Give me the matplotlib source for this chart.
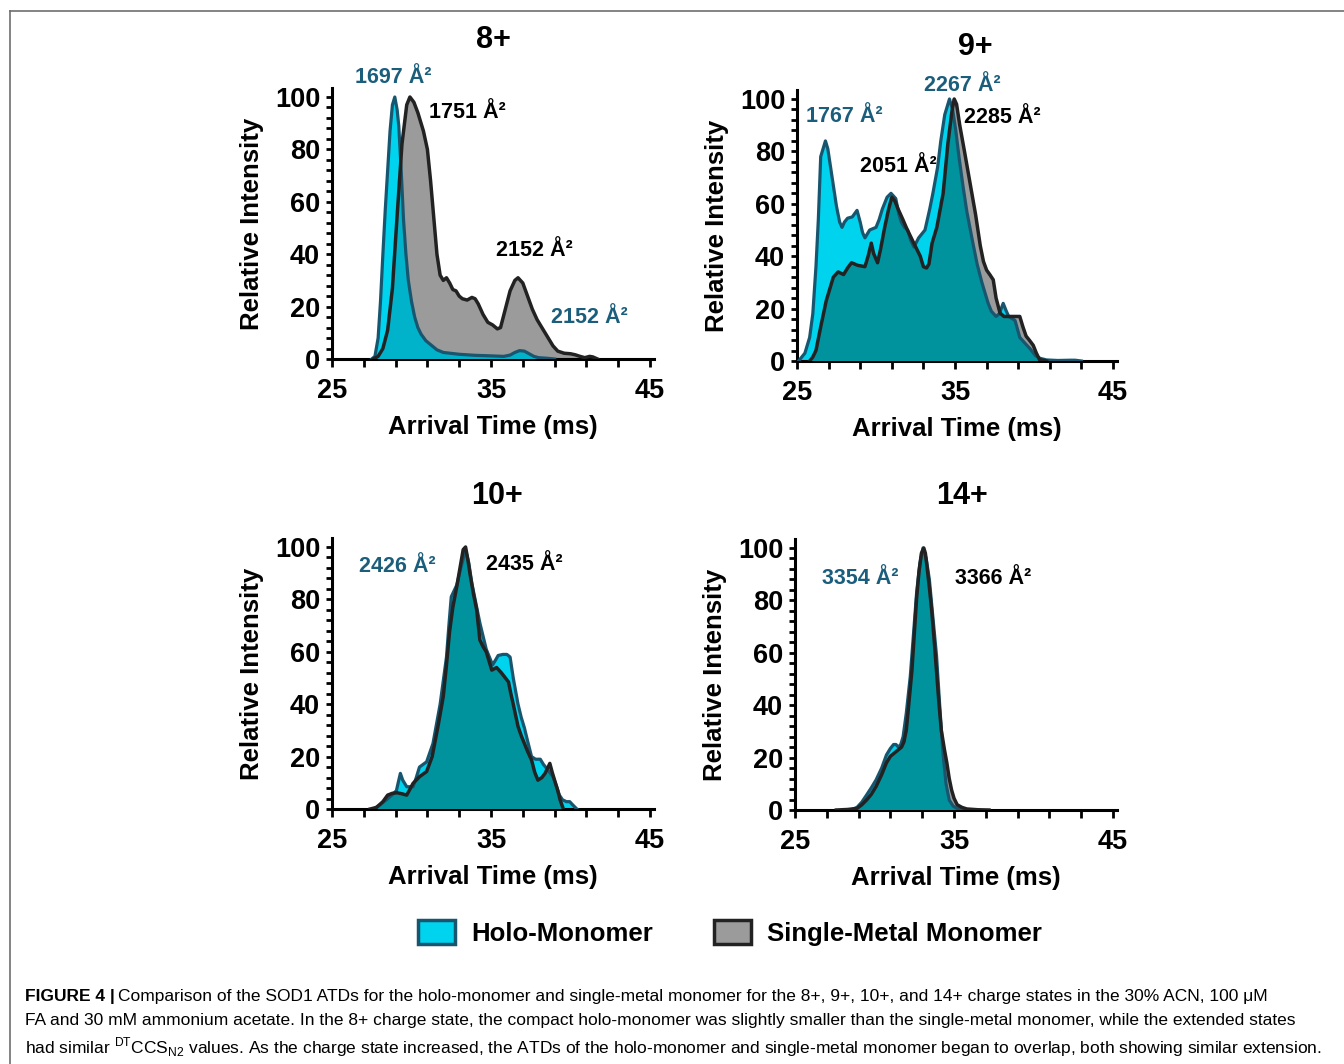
import numpy as np
import matplotlib
matplotlib.use('Agg')
import matplotlib.pyplot as plt
from matplotlib.patches import Patch
from matplotlib.lines import Line2D

plt.rcParams['font.family'] = ['Liberation Sans', 'DejaVu Sans']
plt.rcParams['mathtext.fontset'] = 'custom'
plt.rcParams['mathtext.rm'] = 'Liberation Sans'

W, H = 1344, 1064

CYAN = '#00D3EE'
GRAY = '#9B9B9B'
HOLO_LINE = '#18566F'
BLACK_LINE = '#222222'
HOLO_TEXT = '#1B5E7C'

# ---- data (arrival time ms, relative intensity) ----
# 8+
holo8_t = [27.5, 27.7, 27.9, 28.05, 28.2, 28.35, 28.5, 28.65, 28.8, 28.95, 29.1, 29.2, 29.35, 29.5,
           29.65, 29.8, 30.0, 30.2, 30.4, 30.6, 30.9, 31.2, 31.6, 32.0, 33.0, 34.0, 35.0, 35.8,
           36.2, 36.5, 36.8, 37.1, 37.4, 37.7, 38.0, 38.5, 39.0]
holo8_y = [0, 1, 8, 22, 40, 57, 72, 87, 97, 100, 95, 89, 72, 53,
           40, 30, 22, 16, 12, 9.5, 7, 5.5, 3.5, 2.5, 1.8, 1.4, 1.2, 1,
           1.5, 2.5, 3.2, 3, 2, 1, 0.5, 0.3, 0]
single8_t = [27.6, 27.9, 28.2, 28.5, 28.8, 29.1, 29.4, 29.7, 29.9, 30.15, 30.4, 30.75, 31.0, 31.2,
             31.4, 31.6, 31.8, 32.0, 32.2, 32.4, 32.6, 32.8, 33.0, 33.2, 33.5, 33.8, 34.0, 34.2,
             34.5, 34.8, 35.1, 35.4, 35.6, 35.9, 36.2, 36.5, 36.7, 37.0, 37.3, 37.6, 37.9, 38.2,
             38.6, 38.9, 39.2, 39.6, 40.0, 40.3, 40.6, 40.9, 41.2, 41.4, 41.7]
single8_y = [0, 1, 4, 11, 27, 55, 82, 97, 100, 98, 94, 87, 80, 68,
             54, 40, 32, 30, 31, 29, 26.5, 26, 24, 23, 22.5, 23.5, 23, 21,
             17, 14, 13, 11.5, 12, 19, 26, 30, 31, 29, 24, 19, 15, 12,
             8, 5, 3, 2.2, 2, 1.6, 1, 0.5, 1, 0.8, 0]

# 9+
holo9_t = [25.1, 25.5, 25.8, 26.0, 26.2, 26.35, 26.5, 26.8, 26.95, 27.1, 27.3, 27.5, 27.7, 27.85,
           28.0, 28.2, 28.5, 28.8, 29.0, 29.15, 29.3, 29.6, 30.0, 30.2, 30.4, 30.7, 30.95, 31.25,
           31.45, 31.6, 31.8, 32.0, 32.2, 32.4, 32.7, 33.1, 33.4, 33.6, 33.9, 34.1, 34.35, 34.65,
           34.85, 35.05, 35.25, 35.5, 35.75, 36.1, 36.4, 36.7, 36.9, 37.1, 37.3, 37.6, 37.8,
           38.05, 38.25, 38.4, 38.8, 39.1, 39.4, 39.75, 40.1, 40.4, 40.8, 41.5, 42.3, 42.6, 43.0]
holo9_y = [0, 3, 9, 18, 36, 54, 78, 84, 81, 75, 67, 59, 53, 51,
           53, 54.5, 55, 57.5, 53, 49, 47, 50, 51, 54, 58, 62.5, 64, 62,
           56, 53, 51, 50, 46, 43.5, 47, 50, 58, 64, 74, 84, 94, 100,
           96, 88, 78, 67, 57, 46, 37, 30, 26, 22, 19, 17, 18,
           22, 19, 17, 15.5, 9, 7, 4.7, 2, 1, 0.4, 0.2, 0.3, 0.3, 0]
single9_t = [25.8, 26.0, 26.2, 26.5, 26.85, 27.1, 27.3, 27.6, 27.95, 28.2, 28.45, 28.85, 29.3, 29.5,
             29.7, 29.85, 30.1, 30.3, 30.55, 30.8, 31.0, 31.2, 31.4, 31.7, 31.95, 32.35, 32.8,
             33.0, 33.2, 33.35, 33.55, 33.85, 34.25, 34.55, 34.8, 34.95, 35.1, 35.3, 35.6, 35.95,
             36.3, 36.6, 36.8, 37.0, 37.2, 37.42, 37.6, 37.85, 38.1, 38.6, 39.1, 39.3, 39.5,
             39.7, 39.95, 40.15, 40.35, 40.8]
single9_y = [0, 1.5, 4, 13, 23, 28, 32, 34, 33, 35.5, 37.5, 36.5, 36, 40,
             45, 41, 37.5, 43, 51, 58, 62.5, 61, 58, 54, 50.5, 45.5, 40,
             36, 35.5, 37, 45, 51, 64, 83, 95, 100, 98, 90, 80, 68,
             56, 44, 38, 34.7, 33, 31, 24, 18.3, 17, 17, 17, 13, 9.5,
             8, 6, 3, 0.5, 0]

# 10+
holo10_t = [27.6, 28.0, 28.4, 28.8, 29.05, 29.2, 29.3, 29.45, 29.7, 30.1, 30.3, 30.5, 30.95, 31.35,
            31.8, 32.2, 32.35, 32.5, 32.85, 33.1, 33.4, 33.6, 33.8, 34.0, 34.3, 34.5, 34.7, 35.1,
            35.3, 35.45, 35.75, 36.0, 36.2, 36.4, 36.7, 36.9, 37.1, 37.3, 37.55, 37.8, 38.1, 38.3,
            38.5, 38.9, 39.1, 39.3, 39.5, 39.75, 39.95, 40.15, 40.4]
holo10_y = [0, 1.5, 3.4, 5.5, 7, 11, 13.6, 11, 8.5, 8.5, 12, 16, 18, 25,
            40, 58, 70, 81, 85.5, 92, 99, 94, 86, 80, 71, 66, 61, 55,
            57, 58.6, 59, 59, 58, 50, 40, 35, 31, 26, 20, 19, 19, 17,
            15.5, 12.3, 9, 5.3, 3.5, 2.8, 2.8, 1.5, 0]
single10_t = [27.4, 27.8, 28.2, 28.5, 28.8, 29.1, 29.4, 29.7, 30.1, 30.5, 30.95, 31.3, 31.7, 32.0,
              32.2, 32.4, 32.6, 32.85, 33.05, 33.25, 33.4, 33.55, 33.7, 33.9, 34.1, 34.3, 34.5, 34.7,
              35.05, 35.35, 35.65, 36.1, 36.25, 36.4, 36.7, 36.9, 37.1, 37.3, 37.55, 37.75, 37.95, 38.2,
              38.4, 38.7, 38.85, 39.0, 39.2, 39.35, 39.55]
single10_y = [0, 0.6, 2.8, 5.3, 6, 6.2, 5.8, 5.3, 9.8, 12.3, 14.3, 20, 32.7, 43,
              55, 68, 77, 85, 92, 99, 100, 95, 89, 82, 76, 64.5, 62, 60,
              53, 54, 52, 48.5, 44, 40, 31.5, 28, 25, 22, 18.7, 14, 11, 12,
              13.6, 17.4, 14, 11, 7, 3.4, 0]

# 14+
holo14_t = [28.5, 28.9, 29.2, 29.5, 29.8, 30.1, 30.45, 30.75, 31.0, 31.2, 31.35, 31.5, 31.65, 31.8,
            32.0, 32.25, 32.45, 32.65, 32.85, 33.05, 33.25, 33.45, 33.65, 33.9, 34.1, 34.3, 34.5, 34.7,
            34.95, 35.2, 35.6]
holo14_y = [0, 1, 3, 5.7, 8.5, 11.5, 16, 21, 23.5, 25, 25, 24, 25, 28,
            37, 51, 67, 83, 94, 100, 96, 88, 75, 59, 40, 22, 10, 3.8,
            1.5, 0.6, 0]
single14_t = [27.6, 28.3, 28.9, 29.2, 29.5, 29.8, 30.1, 30.45, 30.75, 31.0, 31.3, 31.5, 31.7, 31.85,
              32.0, 32.15, 32.35, 32.5, 32.65, 32.8, 32.95, 33.1, 33.2, 33.3, 33.45, 33.6, 33.75, 33.9,
              34.05, 34.2, 34.4, 34.55, 34.7, 34.85, 35.0, 35.2, 35.5, 35.8, 36.5, 37.2]
single14_y = [0, 0.2, 0.6, 2, 3.8, 6, 9, 13.5, 18, 20.5, 22, 23, 24, 26,
              30.5, 40, 53, 67, 81, 91, 98, 100, 98, 93, 85, 76, 65, 53,
              41, 30.5, 23, 18, 12, 7.6, 4.5, 2, 1, 0.4, 0.1, 0]

titles = ['8+', '9+', '10+', '14+']
labels_8 = [('1697 Å²', 28.84, 107.6, HOLO_TEXT), ('1751 Å²', 33.49, 93.9, 'black'),
            ('2152 Å²', 37.7, 41.6, 'black'), ('2152 Å²', 41.2, 16.0, HOLO_TEXT)]
labels_9 = [('1767 Å²', 27.97, 93.5, HOLO_TEXT), ('2267 Å²', 35.44, 105.3, HOLO_TEXT),
            ('2285 Å²', 37.97, 93.1, 'black'), ('2051 Å²', 31.39, 74.4, 'black')]
labels_10 = [('2426 Å²', 29.09, 92.4, HOLO_TEXT), ('2435 Å²', 37.08, 93.5, 'black')]
labels_14 = [('3354 Å²', 29.09, 88.5, HOLO_TEXT), ('3366 Å²', 37.45, 88.5, 'black')]

caption1 = ('Comparison of the SOD1 ATDs for the holo-monomer and single-metal monomer for the 8+, 9+, '
            '10+, and 14+ charge states in the 30% ACN, 100 μM')
caption2 = ('FA and 30 mM ammonium acetate. In the 8+ charge state, the compact holo-monomer was slightly '
            'smaller than the single-metal monomer, while the extended states')
caption3 = (r'had similar $^{\mathrm{DT}}$CCS$_{\mathrm{N2}}$ values. As the charge state increased, the ATDs '
            'of the holo-monomer and single-metal monomer began to overlap, both showing similar extension.')


def draw(fig, box, title, title_xy, holo_t, holo_y, single_t, single_y, overlap_color, labels):
    x0, x1, y0, y100 = box
    xmax, ymax = 45.25, 103.5
    rect = [x0 / W, 1 - y0 / H, (x1 - x0) / W * (xmax - 25) / 20, (y0 - y100) / H * ymax / 100]
    ax = fig.add_axes(rect)

    ax.fill_between(single_t, single_y, 0, color=GRAY, lw=0, zorder=1)
    c = ax.fill_between(holo_t, holo_y, 0, color=CYAN, lw=0, zorder=2)
    # where both curves overlap the fill turns teal
    o = ax.fill_between(single_t, single_y, 0, color=overlap_color, lw=0, zorder=3)
    o.set_clip_path(c.get_paths()[0], c.get_transform())
    ax.plot(holo_t, holo_y, color=HOLO_LINE, lw=2.3, zorder=4, solid_joinstyle='round')
    ax.plot(single_t, single_y, color=BLACK_LINE, lw=2.5, zorder=5, solid_joinstyle='round')

    ax.set_xlim(25, xmax)
    ax.set_ylim(0, ymax)
    for s in ['top', 'right']:
        ax.spines[s].set_visible(False)
    for s in ['left', 'bottom']:
        ax.spines[s].set_linewidth(2.2)
    ax.set_xticks([25, 35, 45])
    ax.set_xticks(np.arange(25, 46, 2), minor=True)
    ax.set_yticks(np.arange(0, 101, 20))
    ax.set_yticks(np.arange(0, 101, 4), minor=True)
    ax.tick_params(axis='x', which='both', length=5.5, width=2, pad=8, labelsize=19.5)
    ax.tick_params(axis='y', which='both', length=4.5, width=2, pad=4, labelsize=19.5)
    plt.setp(ax.get_xticklabels() + ax.get_yticklabels(), fontweight='bold')
    ax.set_xlabel('Arrival Time (ms)', fontsize=18.5, fontweight='bold', labelpad=8)
    ax.set_ylabel('Relative Intensity', fontsize=18.5, fontweight='bold', labelpad=8)

    for txt, tx, ty, col in labels:
        ax.text(tx, ty, txt, color=col, fontsize=15.5, fontweight='bold', ha='center', va='center')

    fig.text(title_xy[0] / W, 1 - title_xy[1] / H, title, fontsize=22, fontweight='bold',
             ha='center', va='center')
    return ax


fig = plt.figure(figsize=(W / 100, H / 100), dpi=100)

draw(fig, (332, 650, 359, 97), titles[0], (493, 40), holo8_t, holo8_y, single8_t, single8_y,
     '#00B3CB', labels_8)
draw(fig, (797, 1113, 361, 99), titles[1], (975, 47), holo9_t, holo9_y, single9_t, single9_y,
     '#00939E', labels_9)
draw(fig, (332, 650, 809, 547), titles[2], (497, 496), holo10_t, holo10_y, single10_t, single10_y,
     '#00939E', labels_10)
draw(fig, (795, 1113, 810, 548), titles[3], (962, 496), holo14_t, holo14_y, single14_t, single14_y,
     '#00939E', labels_14)

# legend
handles = [Patch(facecolor=CYAN, edgecolor=HOLO_LINE, lw=2.5, label='Holo-Monomer'),
           Patch(facecolor=GRAY, edgecolor=BLACK_LINE, lw=2.5, label='Single-Metal Monomer')]
leg = fig.legend(handles=handles, loc='center', bbox_to_anchor=(730 / W, 1 - 933 / H), ncol=2,
                 frameon=False, prop={'size': 18.5, 'weight': 'bold'}, handlelength=1.44,
                 handleheight=1.05, handletextpad=0.62, columnspacing=2.37)

# frame lines
fig.add_artist(Line2D([9.5 / W, 1], [1 - 10.5 / H, 1 - 10.5 / H], transform=fig.transFigure,
                      color='#6e6e6e', lw=1.2))
fig.add_artist(Line2D([9.5 / W, 9.5 / W], [0, 1 - 10.5 / H], transform=fig.transFigure,
                      color='#6e6e6e', lw=1.2))

# caption, sized so the widest line fits the printed width
renderer = fig.canvas.get_renderer()
widths = []
for line in [caption2, caption3]:
    probe = fig.text(0, 0, line, fontsize=10)
    widths.append(probe.get_window_extent(renderer).width)
    probe.remove()
cap_size = 10 * 1297 / max(widths)

left = 25
head = fig.text(left / W, 1 - 996 / H, 'FIGURE 4 |', fontsize=cap_size, fontweight='bold', va='center')
hw = head.get_window_extent(renderer).width
fig.text((left + hw + 3) / W, 1 - 996 / H, caption1, fontsize=cap_size, va='center')
fig.text(left / W, 1 - 1021 / H, caption2, fontsize=cap_size, va='center')
fig.text(left / W, 1 - 1047 / H, caption3, fontsize=cap_size, va='center')

fig.savefig('out.png', dpi=100)
